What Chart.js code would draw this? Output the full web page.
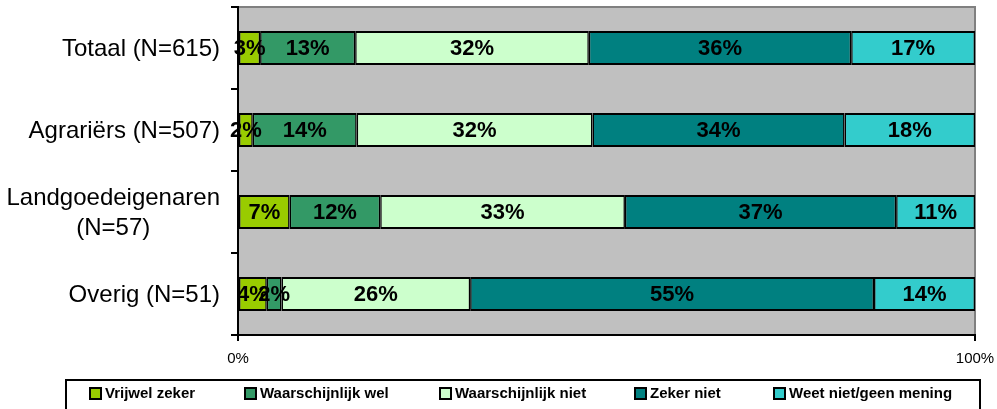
<!DOCTYPE html>
<html>
<head>
<meta charset="utf-8">
<script src="https://cdn.jsdelivr.net/npm/chart.js@4/dist/chart.umd.min.js"></script>
<style>
  html, body { margin: 0; padding: 0; background: #fff; }
  #wrap { width: 997px; height: 409px; }
</style>
</head>
<body>
<div id="wrap"><canvas id="c" width="997" height="409"></canvas></div>
<script>
// categories (top to bottom) and answer shares in %
const groups = [["Totaal (N=615)"], ["Agrariërs (N=507)"], ["Landgoedeigenaren", "(N=57)"], ["Overig (N=51)"]];
const answers = ["Vrijwel zeker", "Waarschijnlijk wel", "Waarschijnlijk niet", "Zeker niet", "Weet niet/geen mening"];
const colors = ["#99cc00", "#339966", "#ccffcc", "#008080", "#33cccc"];

const vrijwelZeker       = [3.0, 2.0, 7.0, 3.9];
const waarschijnlijkWel  = [12.9, 14.1, 12.3, 2.0];
const waarschijnlijkNiet = [31.7, 32.0, 33.2, 25.6];
const zekerNiet          = [35.6, 34.2, 36.8, 54.8];
const weetNiet           = [16.8, 17.7, 10.7, 13.7];
const series = [vrijwelZeker, waarschijnlijkWel, waarschijnlijkNiet, zekerNiet, weetNiet];

const xTicks = [0, 100];
// legend marker left edges (layout only)
const legendX = [90, 245, 440, 635, 774];

const FONT = '"Liberation Sans", Arial, sans-serif';

// gray plot background with gray top/right frame
const plotBg = {
  id: "plotBg",
  beforeDraw(chart) {
    const { ctx, chartArea: a } = chart;
    ctx.save();
    ctx.fillStyle = "#c0c0c0";
    ctx.fillRect(a.left, a.top, a.right - a.left, a.bottom - a.top);
    ctx.strokeStyle = "#808080";
    ctx.lineWidth = 2;
    ctx.beginPath();
    ctx.moveTo(a.left, a.top);
    ctx.lineTo(a.right, a.top);
    ctx.lineTo(a.right, a.bottom);
    ctx.stroke();
    ctx.restore();
  },
};

// percentage labels centred in each segment
const segLabels = {
  id: "segLabels",
  afterDatasetsDraw(chart) {
    const ctx = chart.ctx;
    ctx.save();
    ctx.font = "bold 22px " + FONT;
    ctx.fillStyle = "#000";
    ctx.textAlign = "center";
    ctx.textBaseline = "middle";
    chart.data.datasets.forEach((ds, i) => {
      chart.getDatasetMeta(i).data.forEach((bar, j) => {
        const { x, base, y } = bar.getProps(["x", "base", "y"], true);
        ctx.fillText(Math.round(ds.data[j]) + "%", (x + base) / 2, y + 1);
      });
    });
    ctx.restore();
  },
};

// y labels: block right aligned, lines centred (Excel style)
const yLabels = {
  id: "yLabels",
  afterDraw(chart) {
    const ctx = chart.ctx, ys = chart.scales.y;
    ctx.save();
    ctx.font = "24px " + FONT;
    ctx.fillStyle = "#000";
    ctx.textAlign = "center";
    ctx.textBaseline = "middle";
    const right = ys.right - 18, lh = 30;
    groups.forEach((lines, i) => {
      const w = Math.max(...lines.map((l) => ctx.measureText(l).width));
      const cy = ys.getPixelForValue(i) + 1;
      lines.forEach((l, k) => {
        ctx.fillText(l, right - w / 2, cy + (k - (lines.length - 1) / 2) * lh);
      });
    });
    ctx.restore();
  },
};

// boxed legend below the axis
const boxLegend = {
  id: "boxLegend",
  afterDraw(chart) {
    const ctx = chart.ctx;
    ctx.save();
    ctx.strokeStyle = "#000";
    ctx.lineWidth = 2;
    ctx.strokeRect(66, 380, 914, 40);
    ctx.font = "bold 15px " + FONT;
    ctx.textBaseline = "middle";
    ctx.textAlign = "left";
    answers.forEach((name, i) => {
      const x = legendX[i];
      ctx.fillStyle = colors[i];
      ctx.fillRect(x, 388, 11, 11);
      ctx.strokeRect(x, 388, 11, 11);
      ctx.fillStyle = "#000";
      ctx.fillText(name, x + 15, 394);
    });
    ctx.restore();
  },
};

new Chart(document.getElementById("c"), {
  type: "bar",
  data: {
    labels: groups,
    datasets: series.map((vals, i) => ({
      label: answers[i],
      data: vals,
      backgroundColor: colors[i],
      borderColor: "#000",
      borderWidth: { top: 2, bottom: 2, left: 1.5, right: 1.5 },
      borderSkipped: false,
      barPercentage: 0.415,
      categoryPercentage: 1,
    })),
  },
  options: {
    indexAxis: "y",
    responsive: false,
    animation: false,
    layout: { padding: { left: 0, top: 7, right: 22, bottom: 0 } },
    plugins: { legend: { display: false }, tooltip: { enabled: false } },
    scales: {
      x: {
        stacked: true,
        min: 0,
        max: 100,
        afterBuildTicks: (s) => { s.ticks = xTicks.map((v) => ({ value: v })); },
        afterFit: (s) => { s.height = 74; s.paddingLeft = 0; s.paddingRight = 0; },
        ticks: { color: "#000", font: { family: FONT, size: 15 }, padding: 9, maxRotation: 0, callback: (v) => v + "%" },
        grid: { drawOnChartArea: false, drawTicks: true, tickLength: 6, color: "#000", lineWidth: 2 },
        border: { color: "#000", width: 2 },
      },
      y: {
        stacked: true,
        afterFit: (s) => { s.width = 238; },
        ticks: { display: false },
        grid: { drawOnChartArea: false, drawTicks: true, tickLength: 7, color: "#000", lineWidth: 2, offset: true },
        border: { color: "#000", width: 2 },
      },
    },
  },
  plugins: [plotBg, segLabels, yLabels, boxLegend],
});
</script>
</body>
</html>
